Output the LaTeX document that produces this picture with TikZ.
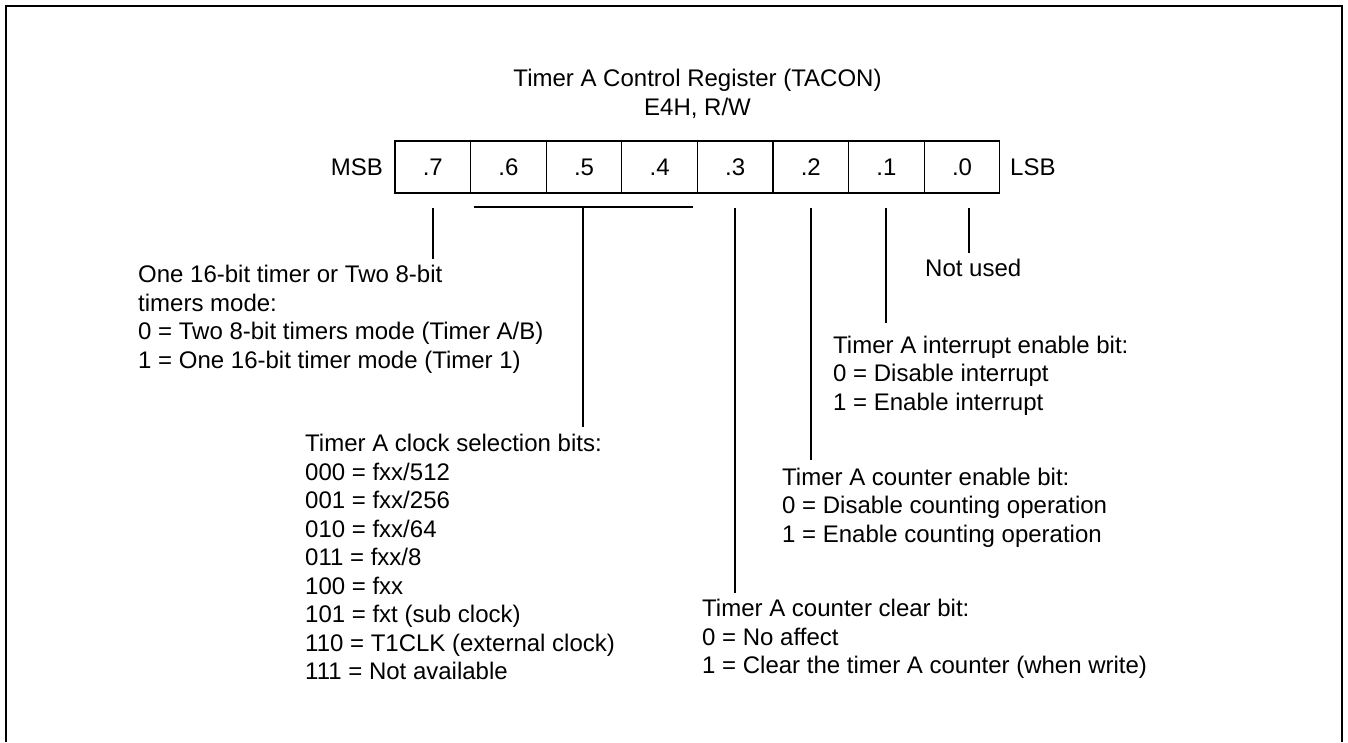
\documentclass[tikz,border=0pt]{standalone}
\usepackage{fontspec}
\setmainfont{Liberation Sans}
\newcommand\fsz{\fontsize{24}{28.5}\selectfont}
\newcommand\topstrut{\rule{0pt}{20pt}}
\tikzset{
  txt/.style={anchor=north west, inner sep=0pt, align=left, font=\fsz},
  lbl/.style={inner sep=0pt, font=\fsz},
  cell/.style={draw, line width=1.2pt, minimum width=75.6pt, minimum height=52pt, inner sep=0pt, font=\fsz},
  conn/.style={line width=1.2pt},
  frame/.style={line width=1.8pt}
}
\begin{document}
\begin{tikzpicture}[x=1pt,y=-1pt]
\useasboundingbox (0,0) rectangle (1348,742);
% frame
\coordinate (f1) at (6,742);
\coordinate (f2) at (6,6);
\coordinate (f3) at (1342,6);
\coordinate (f4) at (1342,742);
\draw[frame] (f1) -- (f2) -- (f3) -- (f4);
% title
\node[lbl, anchor=base] (title) at (697.5,86.7) {Timer A Control Register (TACON)};
\node[lbl, anchor=base] (addr) at (697.5,115.7) {E4H, R/W};
% register cells
\foreach \b [count=\i from 0] in {7,6,5,4,3,2,1,0} {
  \node[cell] (b\b) at ({395+75.6*(\i+0.5)},167) {.\b};
}
\node[lbl, anchor=east] (msb) at (383,167) {MSB};
\node[lbl, anchor=west] (lsb) at (1010,167) {LSB};
% descriptions
\node[txt] (d7) at (138,262.6) {\topstrut One 16-bit timer or Two 8-bit\\timers mode:\\0 = Two 8-bit timers mode (Timer A/B)\\1 = One 16-bit timer mode (Timer 1)};
\node[txt] (d654) at (305,431.7) {\topstrut Timer A clock selection bits:\\000 = fxx/512\\001 = fxx/256\\010 = fxx/64\\011 = fxx/8\\100 = fxx\\101 = fxt (sub clock)\\110 = T1CLK (external clock)\\111 = Not available};
\node[txt] (d3) at (702,596.6) {\topstrut Timer A counter clear bit:\\0 = No affect\\1 = Clear the timer A counter (when write)};
\node[txt] (d2) at (782,465.1) {\topstrut Timer A counter enable bit:\\0 = Disable counting operation\\1 = Enable counting operation};
\node[txt] (d1) at (833,333.1) {\topstrut Timer A interrupt enable bit:\\0 = Disable interrupt\\1 = Enable interrupt};
\node[txt] (d0) at (925,256.1) {\topstrut Not used};
% connectors
\coordinate (s7) at (433,208);  \coordinate (e7) at (433,259);
\coordinate (bl) at (474,207);  \coordinate (br) at (693,207);
\coordinate (sb) at (583,207);  \coordinate (eb) at (583,427);
\coordinate (s3) at (735,208);  \coordinate (e3) at (735,593);
\coordinate (s2) at (811,208);  \coordinate (e2) at (811,460);
\coordinate (s1) at (886,208);  \coordinate (e1) at (886,323);
\coordinate (s0) at (969,208);  \coordinate (e0) at (969,253);
\draw[conn] (s7) -- (e7);
\draw[conn] (bl) -- (br);
\draw[conn] (sb) -- (eb);
\draw[conn] (s3) -- (e3);
\draw[conn] (s2) -- (e2);
\draw[conn] (s1) -- (e1);
\draw[conn] (s0) -- (e0);
\end{tikzpicture}
\end{document}
